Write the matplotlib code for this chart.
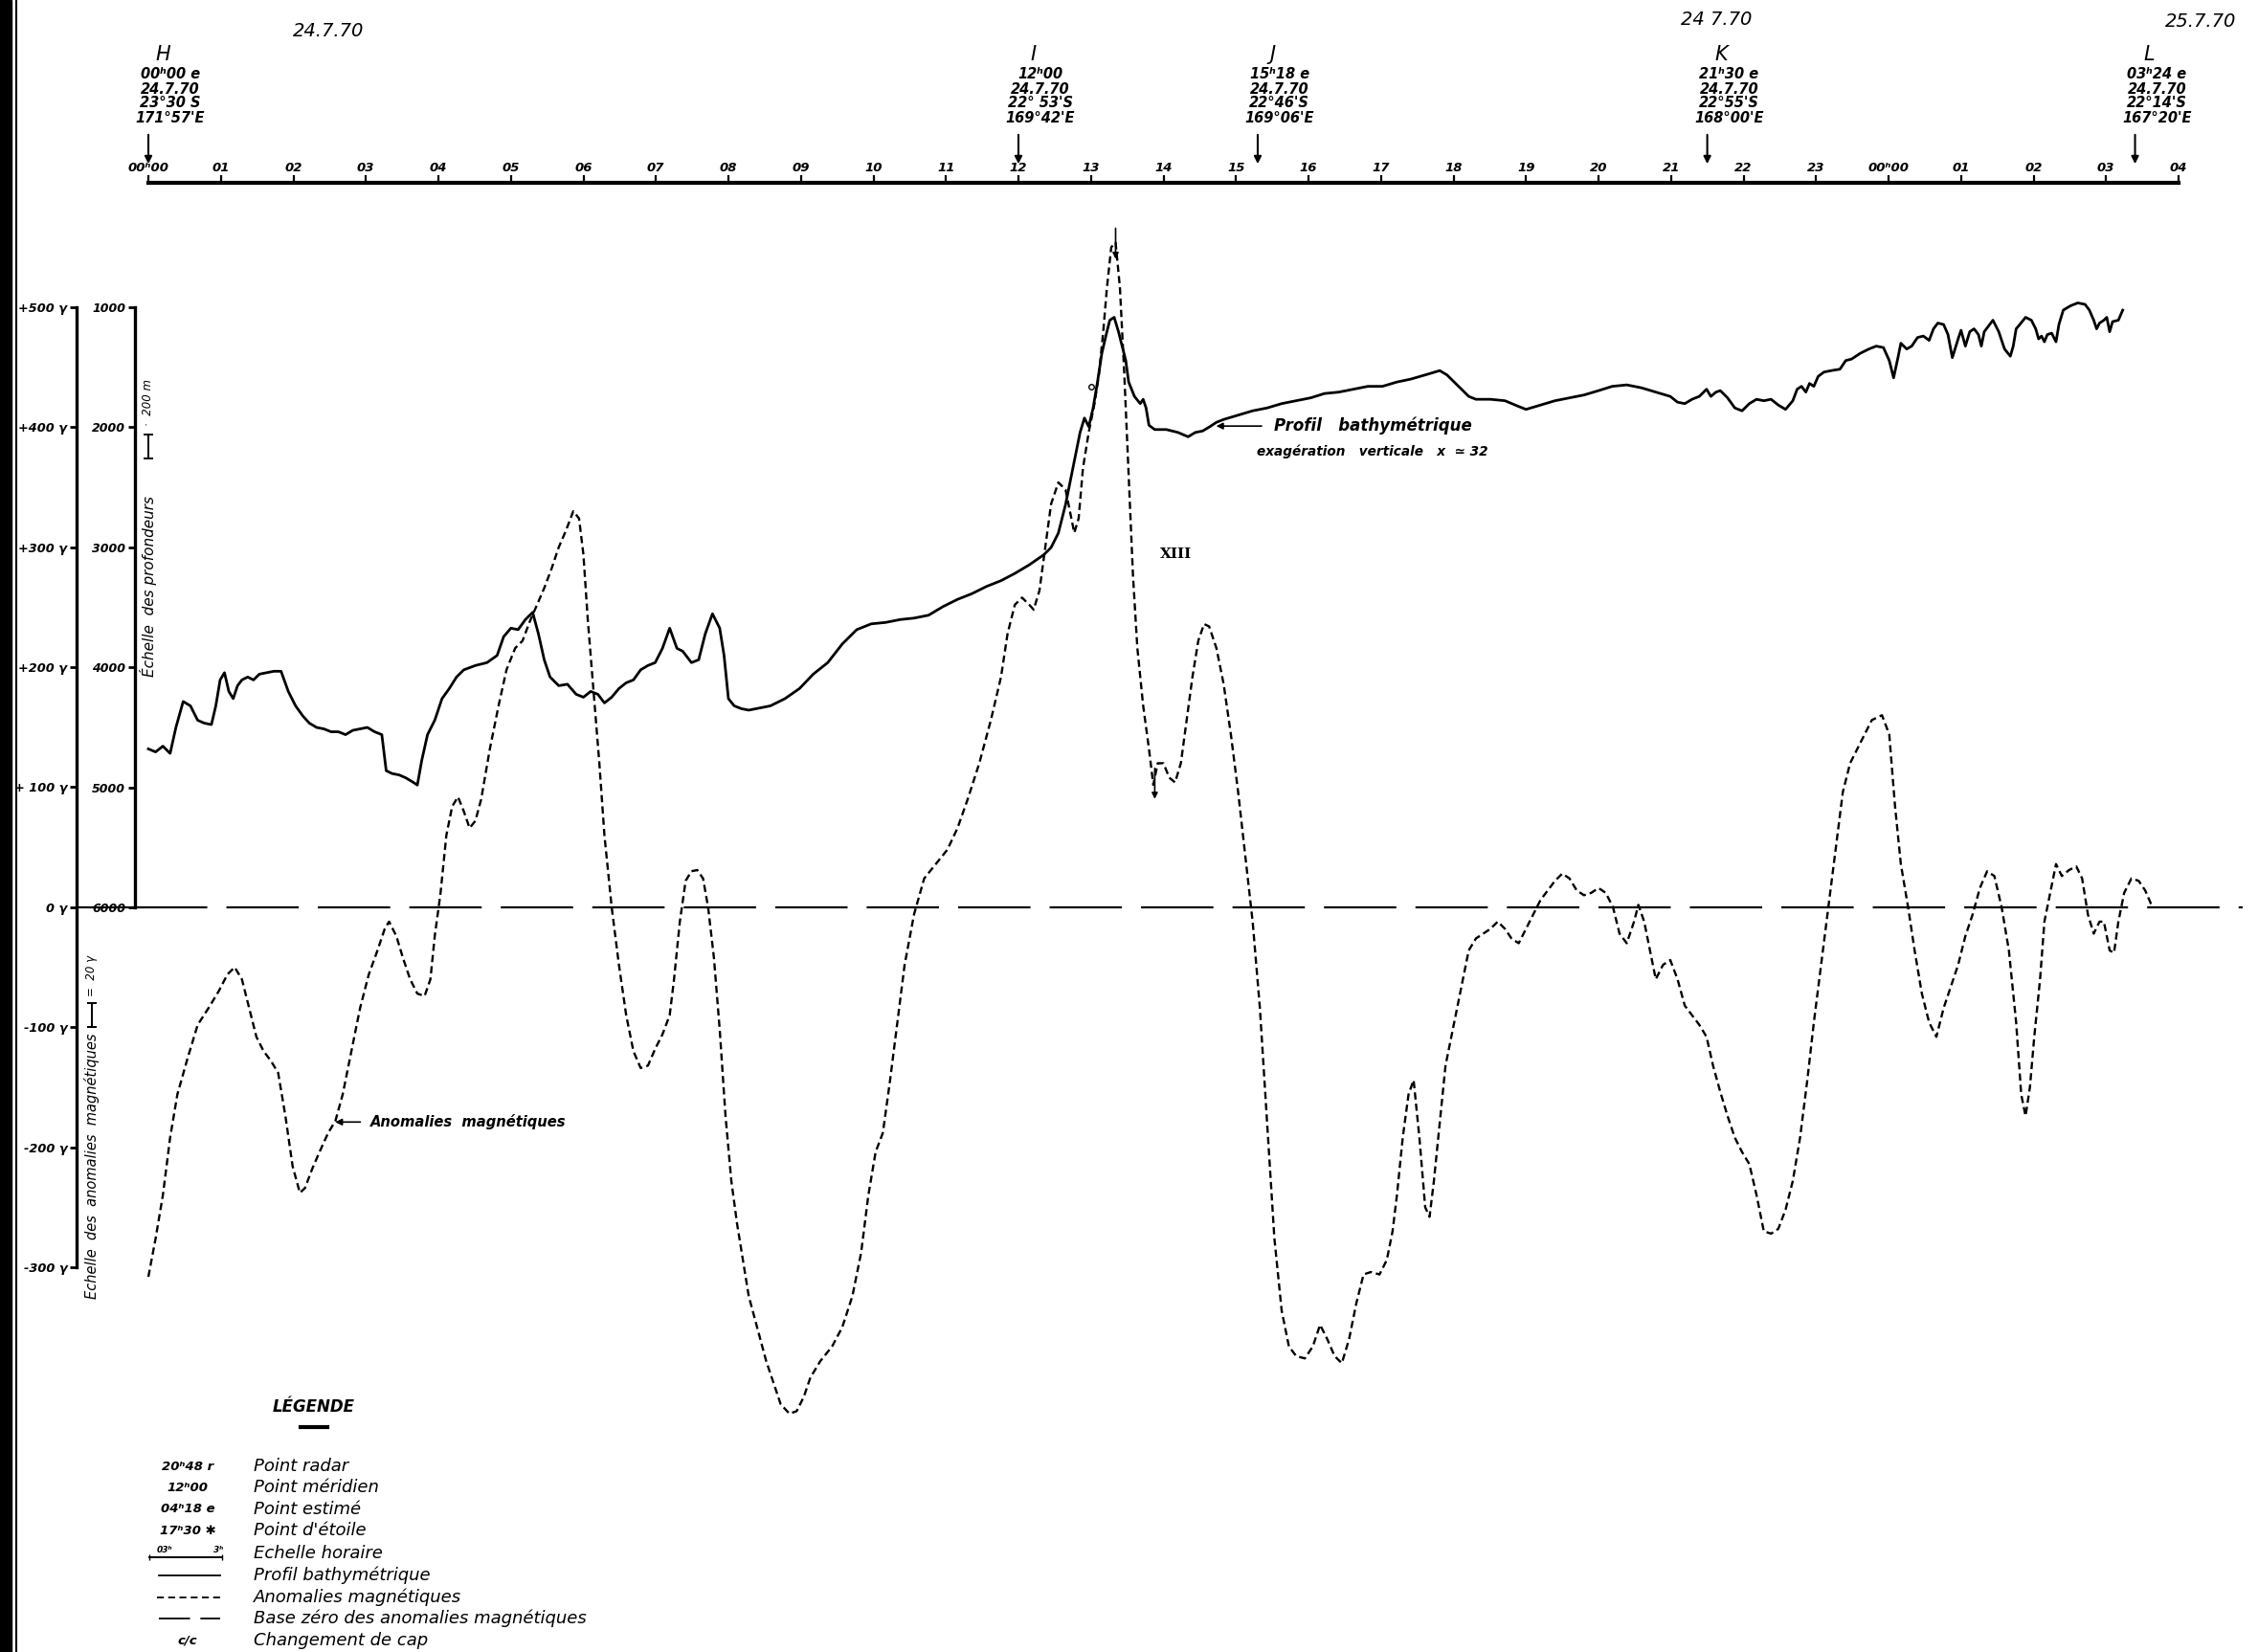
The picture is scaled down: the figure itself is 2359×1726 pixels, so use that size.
import matplotlib
matplotlib.use('Agg')
import matplotlib.pyplot as plt
from matplotlib.lines import Line2D
from matplotlib.patches import Rectangle

# ---- data (hours since 24.7.70 00h00) ----
mag_hours = [0.00, 0.10, 0.20, 0.30, 0.40, 0.54, 0.68, 0.83, 0.97, 1.09, 1.19, 1.29, 1.39, 1.49, 1.59,
             1.69, 1.79, 1.89, 1.99, 2.09, 2.16, 2.26, 2.36, 2.48, 2.58, 2.68, 2.80, 2.92, 3.04, 3.16,
             3.26, 3.32, 3.42, 3.51, 3.61, 3.71, 3.81, 3.89, 3.95, 4.03, 4.11, 4.19, 4.27, 4.35, 4.43,
             4.51, 4.59, 4.71, 4.83, 4.94, 5.06, 5.16, 5.26, 5.36, 5.46, 5.56, 5.66, 5.76, 5.86, 5.94,
             6.00, 6.06, 6.14, 6.22, 6.29, 6.39, 6.49, 6.59, 6.69, 6.79, 6.89, 6.99, 7.09, 7.19, 7.25,
             7.33, 7.41, 7.49, 7.57, 7.65, 7.72, 7.80, 7.88, 7.96, 8.04, 8.12, 8.20, 8.28, 8.36, 8.44,
             8.52, 8.62, 8.72, 8.84, 8.94, 9.04, 9.13, 9.27, 9.43, 9.57, 9.71, 9.83, 9.93, 10.03, 10.13,
             10.23, 10.33, 10.43, 10.56, 10.70, 10.86, 11.02, 11.16, 11.30, 11.46, 11.62, 11.76, 11.85, 11.95, 12.05,
             12.15, 12.21, 12.29, 12.37, 12.45, 12.55, 12.65, 12.71, 12.77, 12.83, 12.89, 12.97, 13.05, 13.11, 13.17,
             13.22, 13.28, 13.34, 13.40, 13.46, 13.52, 13.58, 13.64, 13.72, 13.80, 13.86, 13.92, 14.00, 14.08, 14.16,
             14.24, 14.32, 14.40, 14.48, 14.56, 14.63, 14.73, 14.83, 14.93, 15.03, 15.13, 15.23, 15.33, 15.43, 15.53,
             15.63, 15.73, 15.83, 15.95, 16.06, 16.16, 16.26, 16.36, 16.46, 16.56, 16.66, 16.76, 16.86, 16.98, 17.08,
             17.16, 17.22, 17.30, 17.38, 17.45, 17.53, 17.61, 17.67, 17.73, 17.81, 17.89, 17.97, 18.05, 18.13, 18.21,
             18.31, 18.41, 18.51, 18.61, 18.71, 18.80, 18.90, 19.00, 19.10, 19.20, 19.30, 19.40, 19.50, 19.60, 19.70,
             19.80, 19.90, 20.00, 20.10, 20.20, 20.29, 20.39, 20.49, 20.55, 20.63, 20.71, 20.79, 20.89, 20.99, 21.09,
             21.19, 21.29, 21.39, 21.49, 21.58, 21.68, 21.78, 21.88, 21.98, 22.08, 22.18, 22.28, 22.38, 22.48, 22.58,
             22.68, 22.78, 22.88, 22.97, 23.07, 23.17, 23.27, 23.37, 23.47, 23.57, 23.67, 23.77, 23.91, 24.01, 24.09,
             24.17, 24.27, 24.36, 24.46, 24.56, 24.66, 24.76, 24.86, 24.96, 25.06, 25.16, 25.26, 25.36, 25.46, 25.56,
             25.66, 25.76, 25.83, 25.89, 25.95, 26.01, 26.09, 26.15, 26.23, 26.31, 26.39, 26.49, 26.59, 26.67, 26.75,
             26.83, 26.91, 26.97, 27.05, 27.11, 27.17, 27.25, 27.35, 27.45, 27.54, 27.64]
mag_gamma = [-308, -276, -240, -192, -156, -126, -98, -84, -70, -56, -50, -60, -84, -108, -120,
             -128, -138, -174, -216, -238, -234, -218, -204, -188, -178, -156, -120, -84, -56, -36,
             -18, -12, -24, -42, -60, -72, -74, -60, -24, 12, 60, 84, 92, 80, 66,
             72, 90, 132, 168, 198, 216, 222, 238, 252, 266, 282, 300, 314, 330, 324,
             294, 240, 180, 120, 60, 0, -48, -90, -120, -134, -132, -118, -106, -90, -60,
             -12, 22, 30, 31, 24, 0, -42, -102, -174, -228, -264, -294, -324, -342, -360,
             -378, -396, -414, -422, -420, -408, -392, -378, -366, -350, -324, -288, -240, -204, -188,
             -144, -96, -48, -6, 24, 36, 48, 66, 90, 120, 156, 192, 228, 252, 258,
             252, 248, 264, 300, 336, 354, 348, 330, 312, 324, 366, 396, 420, 444, 480,
             516, 550, 554, 516, 444, 360, 276, 216, 168, 132, 102, 120, 120, 108, 104,
             120, 156, 192, 222, 236, 234, 216, 186, 144, 96, 42, -12, -84, -180, -276,
             -336, -366, -374, -376, -366, -348, -360, -374, -380, -360, -330, -306, -304, -306, -294,
             -270, -240, -192, -156, -144, -192, -250, -258, -228, -180, -132, -108, -84, -60, -36,
             -26, -22, -18, -12, -18, -26, -30, -18, -6, 6, 14, 22, 28, 24, 14,
             10, 12, 16, 12, 0, -22, -30, -12, 2, -12, -36, -60, -48, -44, -60,
             -82, -90, -98, -108, -132, -154, -174, -192, -204, -214, -240, -270, -272, -268, -252,
             -228, -192, -144, -96, -48, 0, 48, 96, 120, 132, 144, 156, 160, 144, 84,
             36, 0, -36, -72, -96, -108, -84, -66, -48, -24, -6, 16, 30, 26, 0,
             -36, -96, -156, -174, -150, -108, -60, -12, 12, 36, 26, 31, 34, 24, -6,
             -22, -12, -12, -36, -38, -12, 12, 24, 22, 14, 0]

depth_hours = [0.00, 0.10, 0.20, 0.30, 0.38, 0.48, 0.58, 0.68, 0.77, 0.87, 0.93, 0.99, 1.05, 1.11, 1.17,
               1.23, 1.29, 1.37, 1.45, 1.53, 1.63, 1.73, 1.83, 1.93, 2.03, 2.13, 2.22, 2.32, 2.42, 2.52,
               2.62, 2.72, 2.82, 2.92, 3.02, 3.12, 3.22, 3.28, 3.36, 3.46, 3.55, 3.65, 3.71, 3.77, 3.85,
               3.95, 4.05, 4.15, 4.25, 4.35, 4.51, 4.67, 4.81, 4.90, 5.00, 5.10, 5.20, 5.30, 5.38, 5.46,
               5.54, 5.66, 5.78, 5.90, 6.00, 6.10, 6.20, 6.29, 6.39, 6.49, 6.59, 6.69, 6.79, 6.89, 6.99,
               7.09, 7.19, 7.29, 7.37, 7.49, 7.59, 7.68, 7.78, 7.88, 7.94, 8.00, 8.08, 8.18, 8.28, 8.38,
               8.58, 8.78, 8.98, 9.17, 9.37, 9.57, 9.77, 9.97, 10.17, 10.37, 10.56, 10.76, 10.96, 11.16, 11.36,
               11.56, 11.76, 11.95, 12.15, 12.35, 12.45, 12.55, 12.65, 12.73, 12.79, 12.85, 12.91, 12.97, 13.03, 13.09,
               13.15, 13.21, 13.26, 13.32, 13.38, 13.42, 13.48, 13.52, 13.60, 13.68, 13.72, 13.76, 13.80, 13.88, 14.04,
               14.20, 14.34, 14.44, 14.54, 14.64, 14.73, 14.83, 15.03, 15.23, 15.43, 15.63, 15.83, 16.03, 16.22, 16.42,
               16.62, 16.82, 17.02, 17.22, 17.41, 17.61, 17.81, 17.91, 18.01, 18.11, 18.21, 18.31, 18.51, 18.71, 18.90,
               19.00, 19.20, 19.40, 19.60, 19.80, 20.00, 20.19, 20.39, 20.59, 20.79, 20.99, 21.09, 21.19, 21.29, 21.39,
               21.49, 21.55, 21.62, 21.68, 21.78, 21.88, 21.98, 22.08, 22.18, 22.28, 22.38, 22.48, 22.58, 22.68, 22.74,
               22.80, 22.86, 22.91, 22.97, 23.03, 23.11, 23.21, 23.33, 23.41, 23.49, 23.61, 23.73, 23.83, 23.93, 24.01,
               24.07, 24.13, 24.17, 24.25, 24.32, 24.40, 24.48, 24.56, 24.62, 24.68, 24.76, 24.82, 24.88, 24.96, 25.00,
               25.06, 25.12, 25.18, 25.24, 25.28, 25.32, 25.38, 25.44, 25.52, 25.60, 25.68, 25.72, 25.76, 25.81, 25.89,
               25.97, 26.03, 26.07, 26.11, 26.15, 26.19, 26.25, 26.31, 26.35, 26.41, 26.51, 26.61, 26.71, 26.77, 26.83,
               26.87, 26.91, 26.97, 27.01, 27.05, 27.09, 27.17, 27.23]
depth_m = [4680, 4705, 4657, 4717, 4501, 4285, 4321, 4441, 4465, 4477, 4321, 4105, 4045, 4201, 4261,
           4153, 4105, 4081, 4105, 4057, 4045, 4033, 4033, 4201, 4321, 4405, 4465, 4501, 4513, 4537,
           4537, 4561, 4525, 4513, 4501, 4537, 4561, 4861, 4885, 4897, 4921, 4957, 4981, 4777, 4561,
           4441, 4261, 4177, 4081, 4021, 3985, 3961, 3901, 3745, 3674, 3686, 3602, 3542, 3722, 3938,
           4081, 4153, 4141, 4225, 4249, 4201, 4225, 4297, 4249, 4177, 4129, 4105, 4021, 3985, 3961,
           3842, 3674, 3842, 3866, 3961, 3937, 3722, 3554, 3674, 3902, 4261, 4321, 4345, 4357, 4345,
           4321, 4261, 4177, 4057, 3961, 3806, 3686, 3638, 3626, 3602, 3590, 3566, 3494, 3434, 3386,
           3326, 3278, 3218, 3146, 3062, 3002, 2882, 2643, 2403, 2223, 2043, 1923, 1995, 1839, 1623,
           1384, 1228, 1108, 1084, 1204, 1300, 1444, 1623, 1743, 1803, 1767, 1839, 1983, 2019, 2019,
           2043, 2079, 2043, 2031, 1995, 1959, 1935, 1899, 1863, 1839, 1803, 1779, 1755, 1719, 1707,
           1683, 1659, 1659, 1623, 1599, 1564, 1528, 1564, 1623, 1683, 1743, 1767, 1767, 1779, 1827,
           1851, 1815, 1779, 1755, 1731, 1695, 1659, 1647, 1671, 1707, 1743, 1791, 1803, 1767, 1743,
           1683, 1743, 1707, 1695, 1755, 1839, 1863, 1803, 1767, 1779, 1767, 1815, 1851, 1779, 1683,
           1659, 1707, 1635, 1659, 1576, 1540, 1528, 1516, 1444, 1432, 1384, 1348, 1324, 1336, 1444,
           1588, 1420, 1300, 1348, 1324, 1252, 1240, 1276, 1180, 1132, 1144, 1228, 1420, 1264, 1192,
           1324, 1204, 1180, 1228, 1324, 1204, 1156, 1108, 1204, 1348, 1408, 1324, 1180, 1144, 1084,
           1108, 1180, 1264, 1240, 1288, 1228, 1216, 1288, 1144, 1024, 988, 964, 976, 1024, 1108,
           1180, 1132, 1108, 1084, 1204, 1120, 1108, 1024]

mag_ticks = [-300, -200, -100, 0, 100, 200, 300, 400, 500]
mag_tick_labels = ['-300 γ', '-200 γ', '-100 γ', '0 γ', '+ 100 γ', '+200 γ', '+300 γ', '+400 γ', '+500 γ']
depth_ticks = [1000, 2000, 3000, 4000, 5000, 6000]

hour_ticks = list(range(29))
hour_labels = ['00ʰ00'] + ['%02d' % h for h in range(1, 24)] + ['00ʰ00', '01', '02', '03', '04']

stations = ['H', 'I', 'J', 'K', 'L']
station_hours = [0.0, 12.0, 15.3, 21.5, 27.4]
station_times = ['00ʰ00 e', '12ʰ00', '15ʰ18 e', '21ʰ30 e', '03ʰ24 e']
station_dates = ['24.7.70', '24.7.70', '24.7.70', '24.7.70', '24.7.70']
station_lats = ['23°30 S', "22° 53'S", "22°46'S", "22°55'S", "22°14'S"]
station_lons = ["171°57'E", "169°42'E", "169°06'E", "168°00'E", "167°20'E"]

day_labels = ['24.7.70', '24 7.70', '25.7.70']
day_hours = [2.48, 21.62, 28.3]

legend_symbols = ['20ʰ48 r', '12ʰ00', '04ʰ18 e', '17ʰ30 ✱', None, None, None, None, 'c/c']
legend_texts = ['Point radar', 'Point méridien', 'Point estimé', "Point d'étoile", 'Echelle horaire',
                'Profil bathymétrique', 'Anomalies magnétiques',
                'Base zéro des anomalies magnétiques', 'Changement de cap']

# ---- figure layout (pixel helpers) ----
W, H = 2359, 1726
X0, PPH = 155.0, 75.75   # pixel of first 00h00 tick, pixels per hour


def fx(px):
    return px / W


def fy(py):
    return 1 - py / H


def hr(px):
    return (px - X0) / PPH


plt.rcParams['font.family'] = ['DejaVu Sans']
fig = plt.figure(figsize=(W / 100, H / 100), dpi=100)
fig.patch.set_facecolor('white')
ital = dict(style='italic', color='black')

# scanned binding edge on the left
fig.add_artist(Rectangle((0, 0), fx(12), 1, transform=fig.transFigure, color='black'))
fig.add_artist(Line2D([fx(17), fx(17)], [0, 1], transform=fig.transFigure, color='black', lw=1.5))

# ---- magnetic anomaly axes ----
right_px = 2347
ax = fig.add_axes([fx(80), fy(1324), fx(right_px) - fx(80), (1324 - 321) / H])
ax.set_xlim(hr(80), hr(right_px))
ax.set_ylim(-300, 500)
for s in ['top', 'right', 'bottom']:
    ax.spines[s].set_visible(False)
ax.spines['left'].set_linewidth(2.4)
ax.set_xticks([])
ax.set_yticks(mag_ticks)
ax.set_yticklabels(mag_tick_labels)
ax.tick_params(axis='y', direction='out', length=5, width=2, pad=2, labelsize=9.3)
for lab in ax.get_yticklabels():
    lab.set_style('italic')
    lab.set_weight('bold')

ax.plot(mag_hours, mag_gamma, color='black', lw=1.7, dashes=(3.2, 1.8), clip_on=False)

# zero base line
ax.plot([hr(80), hr(141)], [0, 0], color='black', lw=1.6)
ax.plot([hr(141), hr(2343)], [0, 0], color='black', lw=1.6, dashes=(34, 9))

# magnetic scale label
xm = hr(96)
ax.text(xm, -326, 'Echelle  des  anomalies  magnétiques', rotation=90, ha='center', va='bottom',
        fontsize=10.5, **ital)
ax.plot([xm, xm], [-100, -80], color='black', lw=1.4, marker='_', ms=7, mew=1.4)
ax.text(xm, -74, '=  20 γ', rotation=90, ha='center', va='bottom', fontsize=8.5, **ital)

# annotations on the magnetic curve
ax.annotate('', xy=(2.54, -179), xytext=(2.96, -179),
            arrowprops=dict(arrowstyle='-|>', color='black', lw=1.2, mutation_scale=10))
ax.text(3.06, -179, 'Anomalies  magnétiques', ha='left', va='center', fontsize=10.6, weight='bold', **ital)
ax.text(13.95, 294, 'XIII', ha='left', va='center', fontsize=11, weight='bold', family='DejaVu Serif')
ax.annotate('', xy=(13.34, 538), xytext=(13.34, 568),
            arrowprops=dict(arrowstyle='-|>', color='black', lw=1.2, mutation_scale=9), annotation_clip=False)
ax.annotate('', xy=(13.88, 88), xytext=(13.88, 118),
            arrowprops=dict(arrowstyle='-|>', color='black', lw=1.2, mutation_scale=9))
ax.plot([13.0], [434], marker='o', ms=4, mfc='white', mec='black', mew=1)

# ---- bathymetry axes ----
axd = fig.add_axes([fx(141), fy(948), fx(right_px) - fx(141), (948 - 321) / H])
axd.patch.set_visible(False)
axd.set_xlim(hr(141), hr(right_px))
axd.set_ylim(6000, 1000)
for s in ['top', 'right', 'bottom']:
    axd.spines[s].set_visible(False)
axd.spines['left'].set_linewidth(2.4)
axd.set_xticks([])
axd.set_yticks(depth_ticks)
axd.set_yticklabels([str(d) for d in depth_ticks])
axd.tick_params(axis='y', direction='out', length=5, width=2, pad=2, labelsize=9)
for lab in axd.get_yticklabels():
    lab.set_style('italic')
    lab.set_weight('bold')

axd.plot(depth_hours, depth_m, color='black', lw=2.0, clip_on=False)

axd.text(0.0, 4080, 'Échelle  des profondeurs', rotation=90, ha='center', va='bottom', fontsize=11, **ital)
axd.plot([0.0, 0.0], [2060, 2260], color='black', lw=1.4, marker='_', ms=7, mew=1.4)
axd.text(0.0, 1990, '·  200 m', rotation=90, ha='center', va='bottom', fontsize=8.5, **ital)

axd.annotate('', xy=(14.69, 1990), xytext=(15.39, 1990),
             arrowprops=dict(arrowstyle='-|>', color='black', lw=1.2, mutation_scale=10))
axd.text(15.53, 1990, 'Profil   bathymétrique', ha='left', va='center', fontsize=12, weight='bold', **ital)
axd.text(15.29, 2200, 'exagération   verticale   x  ≃ 32', ha='left', va='center', fontsize=9.8,
         weight='bold', **ital)

# ---- time scale header ----
axh = fig.add_axes([fx(155), fy(191), fx(2276) - fx(155), 191 / H])
axh.patch.set_visible(False)
axh.set_xlim(0, 28)
axh.set_ylim(191, 0)
for s in ['top', 'right', 'left']:
    axh.spines[s].set_visible(False)
axh.spines['bottom'].set_linewidth(3)
axh.set_yticks([])
axh.set_xticks(hour_ticks)
axh.tick_params(axis='x', direction='in', length=6, width=1.6, labelbottom=False)
for h, lab in zip(hour_ticks, hour_labels):
    axh.text(h, 182, lab, ha='center', va='bottom', fontsize=9.5, weight='bold', **ital)

for name, h, t, d, la, lo in zip(stations, station_hours, station_times, station_dates,
                                 station_lats, station_lons):
    xc = h + 0.3
    axh.text(h + 0.2, 57, name, ha='center', va='center', fontsize=15, **ital)
    for y, s in zip([78, 93, 108, 123], [t, d, la, lo]):
        axh.text(xc, y, s, ha='center', va='center', fontsize=10.5, weight='bold', **ital)
    axh.annotate('', xy=(h, 174), xytext=(h, 138),
                 arrowprops=dict(arrowstyle='-|>', color='black', lw=1.5, mutation_scale=11))

for lab, h, y in zip(day_labels, day_hours, [33, 20, 23]):
    axh.text(h, y, lab, ha='center', va='center', fontsize=14, **ital)

# ---- legend block ----
fig.text(fx(328), fy(1470), 'LÉGENDE', ha='center', va='center', fontsize=12, weight='bold', **ital)
fig.add_artist(Line2D([fx(314), fx(342)], [fy(1491), fy(1491)], transform=fig.transFigure,
                      color='black', lw=3))
row_y = [1532, 1554, 1577, 1599, 1623, 1646, 1669, 1691, 1714]
for i, (sym, txt) in enumerate(zip(legend_symbols, legend_texts)):
    y = fy(row_y[i])
    if sym is not None:
        fig.text(fx(196), y, sym, ha='center', va='center', fontsize=9.5, weight='bold', **ital)
    fig.text(fx(265), y, txt, ha='left', va='center', fontsize=13, **ital)

yl = fy(row_y[4] + 4)
fig.add_artist(Line2D([fx(156), fx(232)], [yl, yl], transform=fig.transFigure, color='black', lw=1.4,
                      marker='|', ms=5, markevery=[0, 1]))
fig.text(fx(172), yl + 0.002, '03ʰ', ha='center', va='bottom', fontsize=6.5, weight='bold', **ital)
fig.text(fx(228), yl + 0.002, '3ʰ', ha='center', va='bottom', fontsize=6.5, weight='bold', **ital)
yl = fy(row_y[5])
fig.add_artist(Line2D([fx(166), fx(230)], [yl, yl], transform=fig.transFigure, color='black', lw=1.3))
yl = fy(row_y[6])
fig.add_artist(Line2D([fx(164), fx(230)], [yl, yl], transform=fig.transFigure, color='black', lw=1.3,
                      dashes=(4, 2.5)))
yl = fy(row_y[7])
fig.add_artist(Line2D([fx(166), fx(230)], [yl, yl], transform=fig.transFigure, color='black', lw=1.3,
                      dashes=(18, 6)))

fig.savefig('out.png', dpi=100, facecolor='white')
